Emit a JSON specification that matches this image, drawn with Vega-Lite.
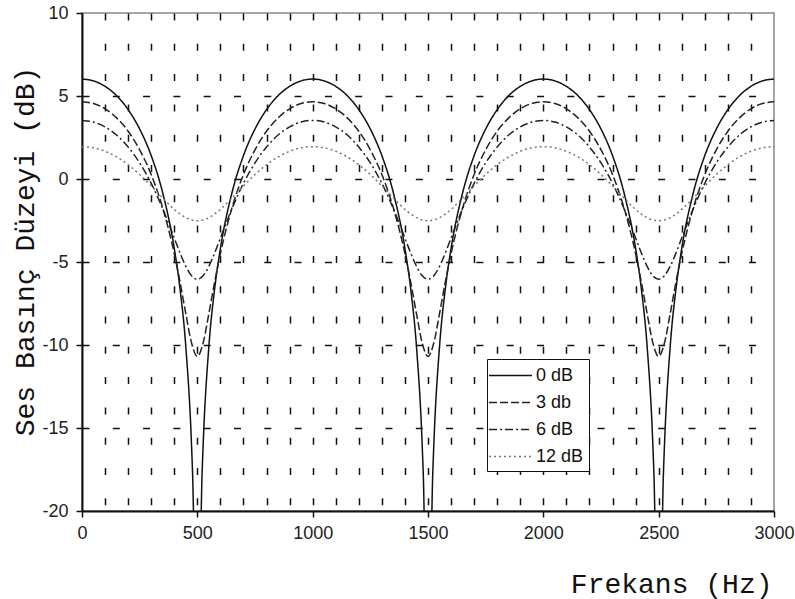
{
"$schema": "https://vega.github.io/schema/vega-lite/v6.json",
"width": 692, "height": 498,
"autosize": {"type": "none"},
"padding": {"left": 82, "top": 13, "right": 21, "bottom": 88},
"background": "white",
"config": {"view": {"stroke": "#888", "strokeWidth": 1.5}},
"data": {"values": [
{"f":0,"s":"0 dB","v":6.02},{"f":50,"s":"0 dB","v":5.91},{"f":100,"s":"0 dB","v":5.58},{"f":150,"s":"0 dB","v":5.02},{"f":200,"s":"0 dB","v":4.18},{"f":250,"s":"0 dB","v":3.01},{"f":300,"s":"0 dB","v":1.41},{"f":350,"s":"0 dB","v":-0.84},{"f":400,"s":"0 dB","v":-4.18},{"f":425,"s":"0 dB","v":-6.62},{"f":450,"s":"0 dB","v":-10.09},{"f":475,"s":"0 dB","v":-16.09},{"f":480,"s":"0 dB","v":-18.02},{"f":490,"s":"0 dB","v":-24.05},{"f":510,"s":"0 dB","v":-24.05},{"f":520,"s":"0 dB","v":-18.02},{"f":525,"s":"0 dB","v":-16.09},{"f":550,"s":"0 dB","v":-10.09},{"f":575,"s":"0 dB","v":-6.62},{"f":600,"s":"0 dB","v":-4.18},{"f":650,"s":"0 dB","v":-0.84},{"f":700,"s":"0 dB","v":1.41},{"f":750,"s":"0 dB","v":3.01},{"f":800,"s":"0 dB","v":4.18},{"f":850,"s":"0 dB","v":5.02},{"f":900,"s":"0 dB","v":5.58},{"f":950,"s":"0 dB","v":5.91},
{"f":1000,"s":"0 dB","v":6.02},{"f":1050,"s":"0 dB","v":5.91},{"f":1100,"s":"0 dB","v":5.58},{"f":1150,"s":"0 dB","v":5.02},{"f":1200,"s":"0 dB","v":4.18},{"f":1250,"s":"0 dB","v":3.01},{"f":1300,"s":"0 dB","v":1.41},{"f":1350,"s":"0 dB","v":-0.84},{"f":1400,"s":"0 dB","v":-4.18},{"f":1425,"s":"0 dB","v":-6.62},{"f":1450,"s":"0 dB","v":-10.09},{"f":1475,"s":"0 dB","v":-16.09},{"f":1480,"s":"0 dB","v":-18.02},{"f":1490,"s":"0 dB","v":-24.05},{"f":1510,"s":"0 dB","v":-24.05},{"f":1520,"s":"0 dB","v":-18.02},{"f":1525,"s":"0 dB","v":-16.09},{"f":1550,"s":"0 dB","v":-10.09},{"f":1575,"s":"0 dB","v":-6.62},{"f":1600,"s":"0 dB","v":-4.18},{"f":1650,"s":"0 dB","v":-0.84},{"f":1700,"s":"0 dB","v":1.41},{"f":1750,"s":"0 dB","v":3.01},{"f":1800,"s":"0 dB","v":4.18},{"f":1850,"s":"0 dB","v":5.02},{"f":1900,"s":"0 dB","v":5.58},{"f":1950,"s":"0 dB","v":5.91},
{"f":2000,"s":"0 dB","v":6.02},{"f":2050,"s":"0 dB","v":5.91},{"f":2100,"s":"0 dB","v":5.58},{"f":2150,"s":"0 dB","v":5.02},{"f":2200,"s":"0 dB","v":4.18},{"f":2250,"s":"0 dB","v":3.01},{"f":2300,"s":"0 dB","v":1.41},{"f":2350,"s":"0 dB","v":-0.84},{"f":2400,"s":"0 dB","v":-4.18},{"f":2425,"s":"0 dB","v":-6.62},{"f":2450,"s":"0 dB","v":-10.09},{"f":2475,"s":"0 dB","v":-16.09},{"f":2480,"s":"0 dB","v":-18.02},{"f":2490,"s":"0 dB","v":-24.05},{"f":2510,"s":"0 dB","v":-24.05},{"f":2520,"s":"0 dB","v":-18.02},{"f":2525,"s":"0 dB","v":-16.09},{"f":2550,"s":"0 dB","v":-10.09},{"f":2575,"s":"0 dB","v":-6.62},{"f":2600,"s":"0 dB","v":-4.18},{"f":2650,"s":"0 dB","v":-0.84},{"f":2700,"s":"0 dB","v":1.41},{"f":2750,"s":"0 dB","v":3.01},{"f":2800,"s":"0 dB","v":4.18},{"f":2850,"s":"0 dB","v":5.02},{"f":2900,"s":"0 dB","v":5.58},{"f":2950,"s":"0 dB","v":5.91},{"f":3000,"s":"0 dB","v":6.02},

{"f":0,"s":"3 db","v":4.65},{"f":50,"s":"3 db","v":4.55},{"f":100,"s":"3 db","v":4.23},{"f":150,"s":"3 db","v":3.68},{"f":200,"s":"3 db","v":2.88},{"f":250,"s":"3 db","v":1.76},{"f":300,"s":"3 db","v":0.27},{"f":350,"s":"3 db","v":-1.75},{"f":400,"s":"3 db","v":-4.49},{"f":425,"s":"3 db","v":-6.21},{"f":450,"s":"3 db","v":-8.11},{"f":475,"s":"3 db","v":-9.88},{"f":500,"s":"3 db","v":-10.69},{"f":525,"s":"3 db","v":-9.88},{"f":550,"s":"3 db","v":-8.11},{"f":575,"s":"3 db","v":-6.21},{"f":600,"s":"3 db","v":-4.49},{"f":650,"s":"3 db","v":-1.75},{"f":700,"s":"3 db","v":0.27},{"f":750,"s":"3 db","v":1.76},{"f":800,"s":"3 db","v":2.88},{"f":850,"s":"3 db","v":3.68},{"f":900,"s":"3 db","v":4.23},{"f":950,"s":"3 db","v":4.55},
{"f":1000,"s":"3 db","v":4.65},{"f":1050,"s":"3 db","v":4.55},{"f":1100,"s":"3 db","v":4.23},{"f":1150,"s":"3 db","v":3.68},{"f":1200,"s":"3 db","v":2.88},{"f":1250,"s":"3 db","v":1.76},{"f":1300,"s":"3 db","v":0.27},{"f":1350,"s":"3 db","v":-1.75},{"f":1400,"s":"3 db","v":-4.49},{"f":1425,"s":"3 db","v":-6.21},{"f":1450,"s":"3 db","v":-8.11},{"f":1475,"s":"3 db","v":-9.88},{"f":1500,"s":"3 db","v":-10.69},{"f":1525,"s":"3 db","v":-9.88},{"f":1550,"s":"3 db","v":-8.11},{"f":1575,"s":"3 db","v":-6.21},{"f":1600,"s":"3 db","v":-4.49},{"f":1650,"s":"3 db","v":-1.75},{"f":1700,"s":"3 db","v":0.27},{"f":1750,"s":"3 db","v":1.76},{"f":1800,"s":"3 db","v":2.88},{"f":1850,"s":"3 db","v":3.68},{"f":1900,"s":"3 db","v":4.23},{"f":1950,"s":"3 db","v":4.55},
{"f":2000,"s":"3 db","v":4.65},{"f":2050,"s":"3 db","v":4.55},{"f":2100,"s":"3 db","v":4.23},{"f":2150,"s":"3 db","v":3.68},{"f":2200,"s":"3 db","v":2.88},{"f":2250,"s":"3 db","v":1.76},{"f":2300,"s":"3 db","v":0.27},{"f":2350,"s":"3 db","v":-1.75},{"f":2400,"s":"3 db","v":-4.49},{"f":2425,"s":"3 db","v":-6.21},{"f":2450,"s":"3 db","v":-8.11},{"f":2475,"s":"3 db","v":-9.88},{"f":2500,"s":"3 db","v":-10.69},{"f":2525,"s":"3 db","v":-9.88},{"f":2550,"s":"3 db","v":-8.11},{"f":2575,"s":"3 db","v":-6.21},{"f":2600,"s":"3 db","v":-4.49},{"f":2650,"s":"3 db","v":-1.75},{"f":2700,"s":"3 db","v":0.27},{"f":2750,"s":"3 db","v":1.76},{"f":2800,"s":"3 db","v":2.88},{"f":2850,"s":"3 db","v":3.68},{"f":2900,"s":"3 db","v":4.23},{"f":2950,"s":"3 db","v":4.55},{"f":3000,"s":"3 db","v":4.65},

{"f":0,"s":"6 dB","v":3.53},{"f":50,"s":"6 dB","v":3.43},{"f":100,"s":"6 dB","v":3.14},{"f":150,"s":"6 dB","v":2.65},{"f":200,"s":"6 dB","v":1.93},{"f":250,"s":"6 dB","v":0.97},{"f":300,"s":"6 dB","v":-0.26},{"f":350,"s":"6 dB","v":-1.79},{"f":400,"s":"6 dB","v":-3.56},{"f":425,"s":"6 dB","v":-4.46},{"f":450,"s":"6 dB","v":-5.26},{"f":475,"s":"6 dB","v":-5.83},{"f":500,"s":"6 dB","v":-6.04},{"f":525,"s":"6 dB","v":-5.83},{"f":550,"s":"6 dB","v":-5.26},{"f":575,"s":"6 dB","v":-4.46},{"f":600,"s":"6 dB","v":-3.56},{"f":650,"s":"6 dB","v":-1.79},{"f":700,"s":"6 dB","v":-0.26},{"f":750,"s":"6 dB","v":0.97},{"f":800,"s":"6 dB","v":1.93},{"f":850,"s":"6 dB","v":2.65},{"f":900,"s":"6 dB","v":3.14},{"f":950,"s":"6 dB","v":3.43},
{"f":1000,"s":"6 dB","v":3.53},{"f":1050,"s":"6 dB","v":3.43},{"f":1100,"s":"6 dB","v":3.14},{"f":1150,"s":"6 dB","v":2.65},{"f":1200,"s":"6 dB","v":1.93},{"f":1250,"s":"6 dB","v":0.97},{"f":1300,"s":"6 dB","v":-0.26},{"f":1350,"s":"6 dB","v":-1.79},{"f":1400,"s":"6 dB","v":-3.56},{"f":1425,"s":"6 dB","v":-4.46},{"f":1450,"s":"6 dB","v":-5.26},{"f":1475,"s":"6 dB","v":-5.83},{"f":1500,"s":"6 dB","v":-6.04},{"f":1525,"s":"6 dB","v":-5.83},{"f":1550,"s":"6 dB","v":-5.26},{"f":1575,"s":"6 dB","v":-4.46},{"f":1600,"s":"6 dB","v":-3.56},{"f":1650,"s":"6 dB","v":-1.79},{"f":1700,"s":"6 dB","v":-0.26},{"f":1750,"s":"6 dB","v":0.97},{"f":1800,"s":"6 dB","v":1.93},{"f":1850,"s":"6 dB","v":2.65},{"f":1900,"s":"6 dB","v":3.14},{"f":1950,"s":"6 dB","v":3.43},
{"f":2000,"s":"6 dB","v":3.53},{"f":2050,"s":"6 dB","v":3.43},{"f":2100,"s":"6 dB","v":3.14},{"f":2150,"s":"6 dB","v":2.65},{"f":2200,"s":"6 dB","v":1.93},{"f":2250,"s":"6 dB","v":0.97},{"f":2300,"s":"6 dB","v":-0.26},{"f":2350,"s":"6 dB","v":-1.79},{"f":2400,"s":"6 dB","v":-3.56},{"f":2425,"s":"6 dB","v":-4.46},{"f":2450,"s":"6 dB","v":-5.26},{"f":2475,"s":"6 dB","v":-5.83},{"f":2500,"s":"6 dB","v":-6.04},{"f":2525,"s":"6 dB","v":-5.83},{"f":2550,"s":"6 dB","v":-5.26},{"f":2575,"s":"6 dB","v":-4.46},{"f":2600,"s":"6 dB","v":-3.56},{"f":2650,"s":"6 dB","v":-1.79},{"f":2700,"s":"6 dB","v":-0.26},{"f":2750,"s":"6 dB","v":0.97},{"f":2800,"s":"6 dB","v":1.93},{"f":2850,"s":"6 dB","v":2.65},{"f":2900,"s":"6 dB","v":3.14},{"f":2950,"s":"6 dB","v":3.43},{"f":3000,"s":"6 dB","v":3.53},

{"f":0,"s":"12 dB","v":1.95},{"f":50,"s":"12 dB","v":1.88},{"f":100,"s":"12 dB","v":1.67},{"f":150,"s":"12 dB","v":1.33},{"f":200,"s":"12 dB","v":0.86},{"f":250,"s":"12 dB","v":0.27},{"f":300,"s":"12 dB","v":-0.42},{"f":350,"s":"12 dB","v":-1.15},{"f":400,"s":"12 dB","v":-1.83},{"f":425,"s":"12 dB","v":-2.11},{"f":450,"s":"12 dB","v":-2.33},{"f":475,"s":"12 dB","v":-2.47},{"f":500,"s":"12 dB","v":-2.51},{"f":525,"s":"12 dB","v":-2.47},{"f":550,"s":"12 dB","v":-2.33},{"f":575,"s":"12 dB","v":-2.11},{"f":600,"s":"12 dB","v":-1.83},{"f":650,"s":"12 dB","v":-1.15},{"f":700,"s":"12 dB","v":-0.42},{"f":750,"s":"12 dB","v":0.27},{"f":800,"s":"12 dB","v":0.86},{"f":850,"s":"12 dB","v":1.33},{"f":900,"s":"12 dB","v":1.67},{"f":950,"s":"12 dB","v":1.88},
{"f":1000,"s":"12 dB","v":1.95},{"f":1050,"s":"12 dB","v":1.88},{"f":1100,"s":"12 dB","v":1.67},{"f":1150,"s":"12 dB","v":1.33},{"f":1200,"s":"12 dB","v":0.86},{"f":1250,"s":"12 dB","v":0.27},{"f":1300,"s":"12 dB","v":-0.42},{"f":1350,"s":"12 dB","v":-1.15},{"f":1400,"s":"12 dB","v":-1.83},{"f":1425,"s":"12 dB","v":-2.11},{"f":1450,"s":"12 dB","v":-2.33},{"f":1475,"s":"12 dB","v":-2.47},{"f":1500,"s":"12 dB","v":-2.51},{"f":1525,"s":"12 dB","v":-2.47},{"f":1550,"s":"12 dB","v":-2.33},{"f":1575,"s":"12 dB","v":-2.11},{"f":1600,"s":"12 dB","v":-1.83},{"f":1650,"s":"12 dB","v":-1.15},{"f":1700,"s":"12 dB","v":-0.42},{"f":1750,"s":"12 dB","v":0.27},{"f":1800,"s":"12 dB","v":0.86},{"f":1850,"s":"12 dB","v":1.33},{"f":1900,"s":"12 dB","v":1.67},{"f":1950,"s":"12 dB","v":1.88},
{"f":2000,"s":"12 dB","v":1.95},{"f":2050,"s":"12 dB","v":1.88},{"f":2100,"s":"12 dB","v":1.67},{"f":2150,"s":"12 dB","v":1.33},{"f":2200,"s":"12 dB","v":0.86},{"f":2250,"s":"12 dB","v":0.27},{"f":2300,"s":"12 dB","v":-0.42},{"f":2350,"s":"12 dB","v":-1.15},{"f":2400,"s":"12 dB","v":-1.83},{"f":2425,"s":"12 dB","v":-2.11},{"f":2450,"s":"12 dB","v":-2.33},{"f":2475,"s":"12 dB","v":-2.47},{"f":2500,"s":"12 dB","v":-2.51},{"f":2525,"s":"12 dB","v":-2.47},{"f":2550,"s":"12 dB","v":-2.33},{"f":2575,"s":"12 dB","v":-2.11},{"f":2600,"s":"12 dB","v":-1.83},{"f":2650,"s":"12 dB","v":-1.15},{"f":2700,"s":"12 dB","v":-0.42},{"f":2750,"s":"12 dB","v":0.27},{"f":2800,"s":"12 dB","v":0.86},{"f":2850,"s":"12 dB","v":1.33},{"f":2900,"s":"12 dB","v":1.67},{"f":2950,"s":"12 dB","v":1.88},{"f":3000,"s":"12 dB","v":1.95}
]},
"mark": {"type": "line", "interpolate": "monotone", "clip": true, "strokeWidth": 1.5},
"encoding": {
  "x": {"field": "f", "type": "quantitative",
    "scale": {"domain": [0, 3000], "nice": false, "zero": false},
    "axis": {
      "values": [0,100,200,300,400,500,600,700,800,900,1000,1100,1200,1300,1400,1500,1600,1700,1800,1900,2000,2100,2200,2300,2400,2500,2600,2700,2800,2900,3000],
      "labelExpr": "datum.value % 500 === 0 ? '' + datum.value : ''",
      "grid": true, "gridDash": [7, 23.3], "gridColor": "#111", "gridWidth": 1.5,
      "gridOpacity": {"condition": {"test": "datum.value > 0 && datum.value < 3000", "value": 1}, "value": 0},
      "tickOpacity": {"condition": {"test": "datum.value % 500 === 0", "value": 1}, "value": 0},
      "tickSize": 6, "tickColor": "#111", "tickWidth": 1.5,
      "domainColor": "#111", "domainWidth": 2,
      "labelFont": "Liberation Sans", "labelFontSize": 18, "labelColor": "#222", "labelPadding": 7,
      "labelFlush": false, "labelOverlap": false, "labelBound": false,
      "title": "Frekans (Hz)", "titleFont": "Liberation Mono", "titleFontSize": 28, "titleFontWeight": "normal", "titleColor": "#111",
      "titleAlign": "right", "titleAnchor": "end", "titleBaseline": "alphabetic", "titleX": 690, "titleY": 81
    }},
  "y": {"field": "v", "type": "quantitative",
    "scale": {"domain": [-20, 10], "nice": false, "zero": false},
    "axis": {
      "values": [-20,-15,-10,-5,0,5,10],
      "labelExpr": "'' + datum.value",
      "grid": true, "gridDash": [7, 23.3], "gridColor": "#111", "gridWidth": 1.5,
      "gridOpacity": {"condition": {"test": "datum.value > -20 && datum.value < 10", "value": 1}, "value": 0},
      "tickSize": 6, "tickColor": "#111", "tickWidth": 1.5,
      "domainColor": "#111", "domainWidth": 2,
      "labelFont": "Liberation Sans", "labelFontSize": 18, "labelColor": "#222", "labelPadding": 8,
      "labelFlush": false, "labelOverlap": false, "labelBound": false,
      "title": "Ses Basınç Düzeyi (dB)", "titleFont": "Liberation Mono", "titleFontSize": 28, "titleFontWeight": "normal", "titleColor": "#111",
      "titleAngle": 270, "titleAlign": "center", "titleBaseline": "alphabetic", "titleX": -49, "titleY": 238
    }},
  "color": {"field": "s", "type": "nominal",
    "scale": {"domain": ["0 dB", "3 db", "6 dB", "12 dB"], "range": ["#111", "#222", "#222", "#777"]},
    "legend": {"title": null, "orient": "none", "legendX": 405, "legendY": 346,
      "symbolType": "M-2,0H2", "symbolSize": 462, "symbolStrokeWidth": 1.5, "symbolOffset": 7,
      "labelOffset": 14, "rowPadding": 6, "padding": 5,
      "strokeColor": "#111", "fillColor": "white",
      "labelFont": "Liberation Sans", "labelFontSize": 18, "labelColor": "#111"}},
  "strokeDash": {"field": "s", "type": "nominal",
    "scale": {"domain": ["0 dB", "3 db", "6 dB", "12 dB"], "range": [[1, 0], [8, 3], [8, 3, 2, 3], [2, 3]]},
    "legend": {"title": null, "orient": "none", "legendX": 405, "legendY": 346,
      "symbolType": "M-2,0H2", "symbolSize": 462, "symbolStrokeWidth": 1.5, "symbolOffset": 7,
      "labelOffset": 14, "rowPadding": 6, "padding": 5,
      "strokeColor": "#111", "fillColor": "white",
      "labelFont": "Liberation Sans", "labelFontSize": 18, "labelColor": "#111"}}
}
}
